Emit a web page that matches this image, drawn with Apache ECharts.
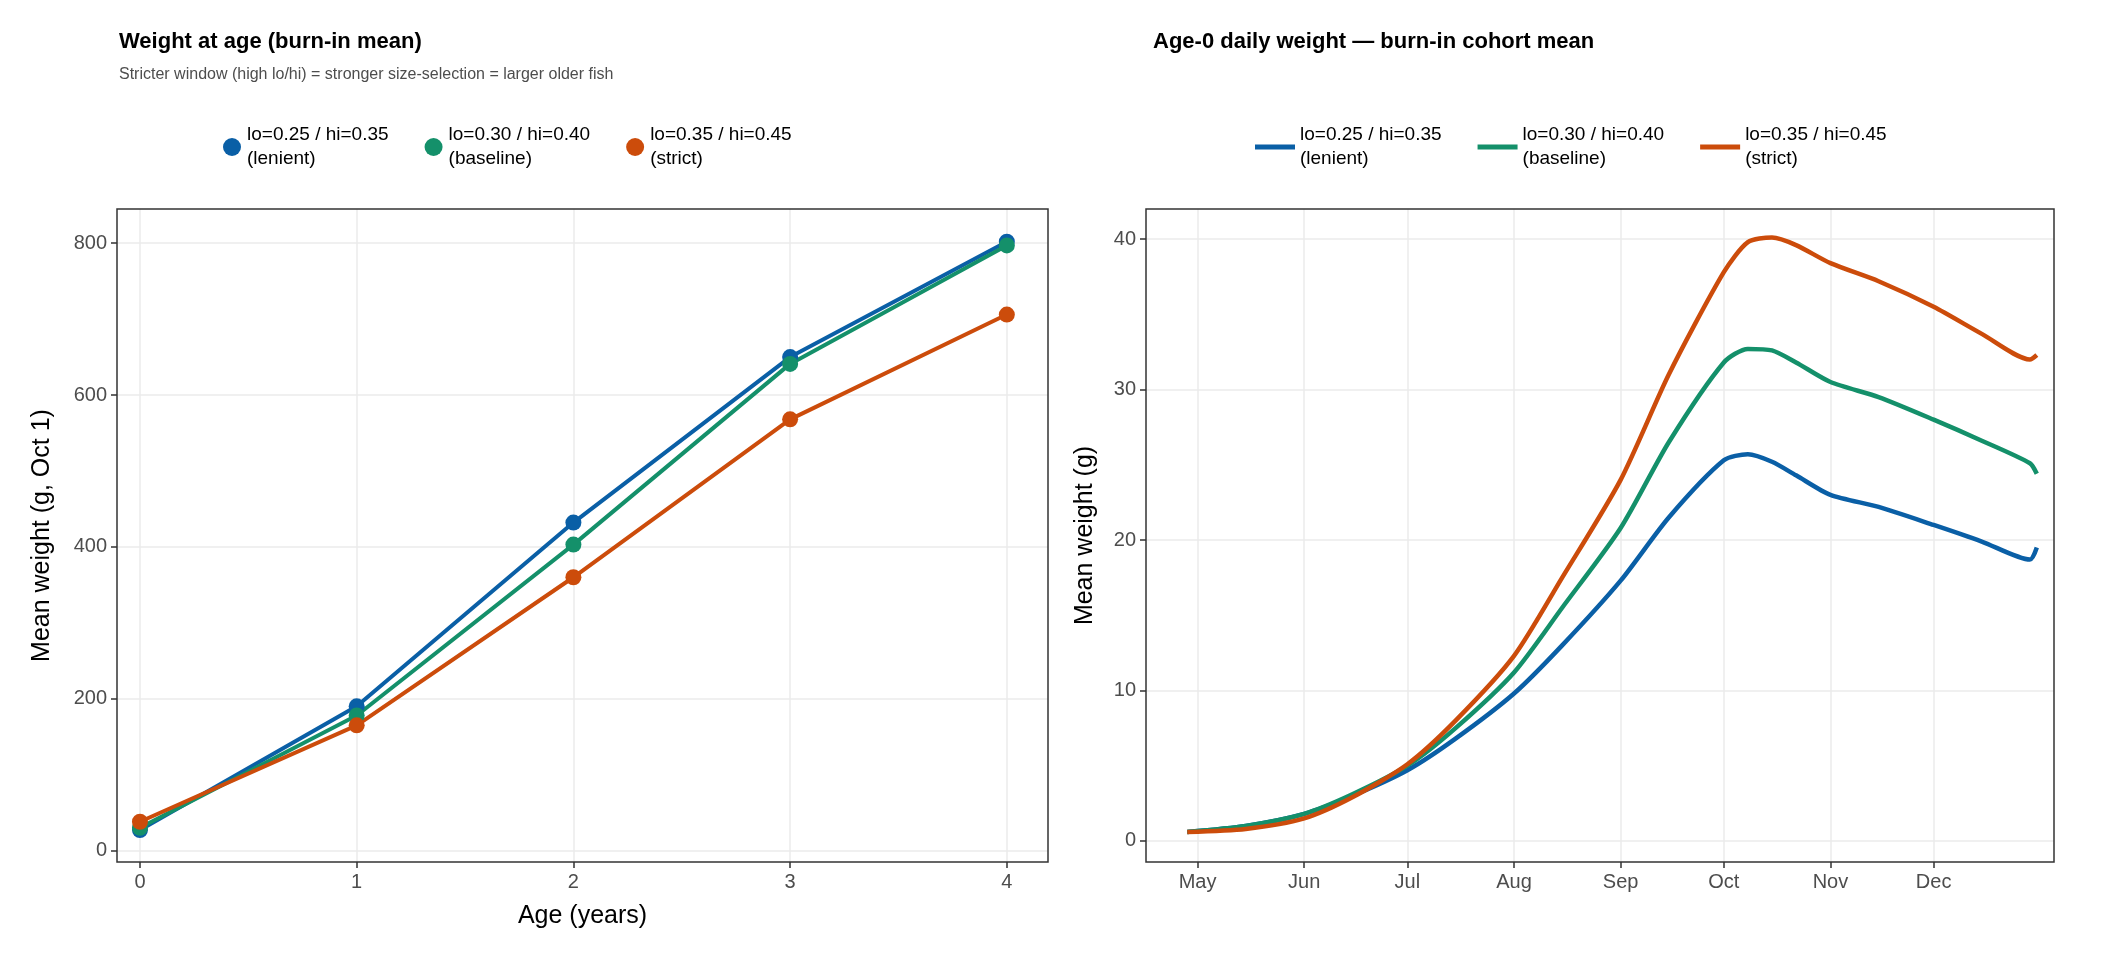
<!DOCTYPE html>
<html><head><meta charset="utf-8">
<script src="https://cdn.jsdelivr.net/npm/echarts@6/dist/echarts.min.js"></script>
<style>html,body{margin:0;background:#fff}#main{width:2112px;height:960px}</style>
</head><body><div id="main"></div>
<script>
const names = ["lo=0.25 / hi=0.35\n(lenient)", "lo=0.30 / hi=0.40\n(baseline)", "lo=0.35 / hi=0.45\n(strict)"];
const colors = ["#0a5fa6", "#14906a", "#cc4c0b"];
const ages = [0, 1, 2, 3, 4];
const wLenient = [27, 190, 432, 650, 802];
const wBaseline = [30, 178, 403, 641, 797];
const wStrict = [38, 165, 360, 568, 706];

const days = ["2001-04-28","2001-05-15","2001-06-01","2001-06-15","2001-07-01","2001-07-15","2001-08-01","2001-08-15",
  "2001-09-01","2001-09-15","2001-10-01","2001-10-08","2001-10-15","2001-10-22","2001-11-01","2001-11-15",
  "2001-12-01","2001-12-15","2001-12-29","2001-12-31"];
const dLenient = [0.6,1.0,1.8,3.0,4.7,6.8,9.8,13.0,17.3,21.5,25.3,25.7,25.2,24.3,23.0,22.2,21.0,19.9,18.7,19.5];
const dBaseline = [0.6,1.0,1.8,3.1,5.0,7.5,11.2,15.5,20.8,26.5,31.8,32.7,32.6,31.8,30.5,29.5,28.0,26.6,25.1,24.4];
const dStrict = [0.6,0.8,1.5,2.9,5.1,8.0,12.3,17.5,24.0,31.0,37.8,39.8,40.1,39.6,38.4,37.2,35.5,33.7,32.0,32.3];
const monthTicks = ["2001-05-01","2001-06-01","2001-07-01","2001-08-01","2001-09-01","2001-10-01","2001-11-01","2001-12-01"];
const MON = ["Jan","Feb","Mar","Apr","May","Jun","Jul","Aug","Sep","Oct","Nov","Dec"];

const ts = s => new Date(s + "T00:00:00Z").getTime();
const F = "Liberation Sans";
const grid = {color: "#ebebeb", width: 1.5};
function axisBase(custom) {
  return {
    axisLine: {show: false, onZero: false},
    axisTick: {show: true, inside: false, customValues: custom, length: 6, lineStyle: {color: "#333", width: 1.5}},
    axisLabel: {customValues: custom, color: "#4d4d4d", fontSize: 20, fontFamily: F, margin: 10},
    splitLine: {show: true, lineStyle: grid}
  };
}
const border = (x, y, w, h) => ({type: "rect", shape: {x, y, width: w, height: h}, style: {fill: "none", stroke: "#333", lineWidth: 1.5}, z: 10});

const ageSeries = [wLenient, wBaseline, wStrict].map((d, i) => ({
  name: names[i], type: "line", xAxisIndex: 0, yAxisIndex: 0,
  data: ages.map((a, j) => [a, d[j]]), symbol: "circle", symbolSize: 16,
  lineStyle: {width: 4, color: colors[i]}, itemStyle: {color: colors[i]}
}));
const daySeries = [dLenient, dBaseline, dStrict].map((d, i) => ({
  name: names[i] + " ", type: "line", xAxisIndex: 1, yAxisIndex: 1,
  data: days.map((t, j) => [ts(t), d[j]]), showSymbol: false, smooth: 0.25,
  lineStyle: {width: 4.5, color: colors[i]}, itemStyle: {color: colors[i]}
}));

const xDay = axisBase(monthTicks.map(ts));
xDay.axisLabel.formatter = v => MON[new Date(v).getUTCMonth()];

const chart = echarts.init(document.getElementById("main"));
chart.setOption({
  animation: false,
  textStyle: {fontFamily: F},
  title: [
    {text: "Weight at age (burn-in mean)", subtext: "Stricter window (high lo/hi) = stronger size-selection = larger older fish",
     left: 114, top: 26, itemGap: 14,
     textStyle: {fontSize: 22, fontWeight: "bold", color: "#000", fontFamily: F},
     subtextStyle: {fontSize: 16, color: "#4d4d4d", fontFamily: F}},
    {text: "Age-0 daily weight \u2014 burn-in cohort mean", left: 1148, top: 26,
     textStyle: {fontSize: 22, fontWeight: "bold", color: "#000", fontFamily: F}}
  ],
  legend: [
    {data: names.map(n => ({name: n, icon: "circle"})), left: 218, top: 118, itemWidth: 20, itemHeight: 18, itemGap: 36,
     textStyle: {fontSize: 19, color: "#000", lineHeight: 24}},
    {data: names.map(n => ({name: n + " ", icon: "rect"})), left: 1250, top: 118, itemWidth: 40, itemHeight: 5, itemGap: 36,
     textStyle: {fontSize: 19, color: "#000", lineHeight: 24}}
  ],
  grid: [
    {left: 117, top: 209, width: 931, height: 653},
    {left: 1146, top: 209, width: 908, height: 653}
  ],
  xAxis: [
    Object.assign(axisBase(ages), {type: "value", gridIndex: 0, min: -0.106, max: 4.19,
      name: "Age (years)", nameLocation: "middle", nameGap: 42, nameTextStyle: {fontSize: 25, color: "#000", fontFamily: F}}),
    Object.assign(xDay, {type: "value", gridIndex: 1, min: ts("2001-04-16"), max: ts("2002-01-05")})
  ],
  yAxis: [
    Object.assign(axisBase([0, 200, 400, 600, 800]), {type: "value", gridIndex: 0, min: -15, max: 845,
      name: "Mean weight (g, Oct 1)", nameLocation: "middle", nameGap: 62, nameTextStyle: {fontSize: 25, color: "#000", fontFamily: F}}),
    Object.assign(axisBase([0, 10, 20, 30, 40]), {type: "value", gridIndex: 1, min: -1.4, max: 42,
      name: "Mean weight (g)", nameLocation: "middle", nameGap: 48, nameTextStyle: {fontSize: 25, color: "#000", fontFamily: F}})
  ],
  graphic: [border(117, 209, 931, 653), border(1146, 209, 908, 653)],
  series: ageSeries.concat(daySeries)
});
</script></body></html>
